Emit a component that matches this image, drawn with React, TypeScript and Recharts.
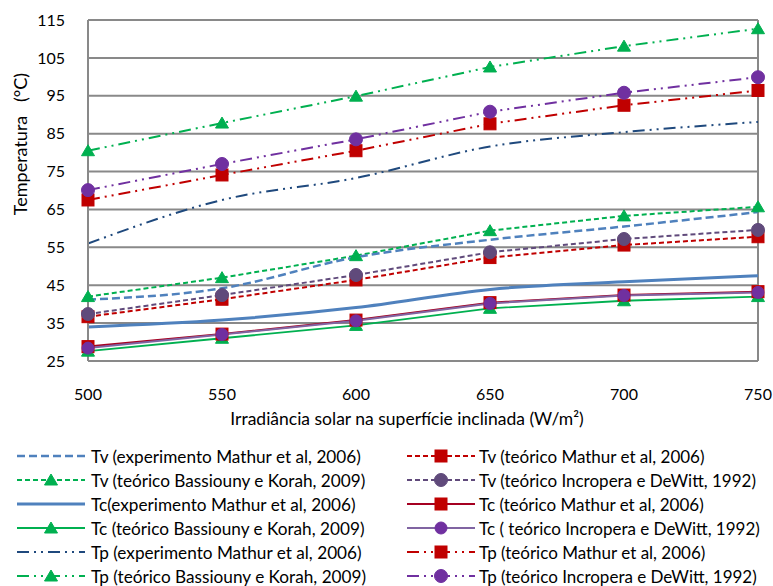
import React from "react";
import {
  LineChart,
  Line,
  XAxis,
  YAxis,
  CartesianGrid,
  ReferenceLine,
} from "recharts";

// Irradiância (W/m²)
const irradiancia = [500, 550, 600, 650, 700, 750];
const yTicks = [25, 35, 45, 55, 65, 75, 85, 95, 105, 115];

// Temperatura do vidro (Tv)
const tvExpMathur = [41.2, 44.2, 52.4, 57.0, 60.5, 64.3];
const tvTeoMathur = [36.7, 41.3, 46.4, 52.3, 55.6, 57.8];
const tvBassiouny = [42.0, 47.0, 52.8, 59.4, 63.3, 65.7];
const tvIncropera = [37.4, 42.4, 47.7, 53.7, 57.2, 59.6];

// Temperatura do coletor (Tc)
const tcExpMathur = [34.0, 35.8, 39.1, 43.9, 45.9, 47.5];
const tcTeoMathur = [28.8, 32.1, 35.8, 40.4, 42.4, 43.3];
const tcBassiouny = [27.6, 31.0, 34.4, 38.9, 40.9, 42.0];
const tcIncropera = [28.4, 32.0, 35.6, 40.2, 42.3, 43.1];

// Temperatura da placa (Tp)
const tpExpMathur = [56.0, 67.5, 73.3, 81.6, 85.4, 88.1];
const tpTeoMathur = [67.5, 74.1, 80.5, 87.6, 92.5, 96.4];
const tpBassiouny = [80.5, 87.8, 94.9, 102.6, 108.1, 112.7];
const tpIncropera = [70.1, 77.0, 83.5, 90.8, 95.8, 99.9];

type Marker = "none" | "square" | "triangle" | "circle";

interface Serie {
  key: string;
  name: string;
  values: number[];
  color: string;
  markerColor: string;
  width: number;
  dash?: string;
  marker: Marker;
  markerSize: number;
  curve: "linear" | "monotone";
}

const DASH_DOT_DOT = "12 5 2 5 2 5";

const series: Serie[] = [
  { key: "tcBass", name: "Tc (teórico Bassiouny e Korah, 2009)", values: tcBassiouny, color: "#00B050", markerColor: "#00B050", width: 1.8, marker: "triangle", markerSize: 12, curve: "linear" },
  { key: "tcExp", name: "Tc(experimento Mathur et al, 2006)", values: tcExpMathur, color: "#4F81BD", markerColor: "#4F81BD", width: 3, marker: "none", markerSize: 0, curve: "monotone" },
  { key: "tcMat", name: "Tc (teórico Mathur et al, 2006)", values: tcTeoMathur, color: "#A50021", markerColor: "#C00000", width: 2, marker: "square", markerSize: 12, curve: "linear" },
  { key: "tcInc", name: "Tc ( teórico Incropera e DeWitt, 1992)", values: tcIncropera, color: "#8064A2", markerColor: "#7030A0", width: 2, marker: "circle", markerSize: 12, curve: "linear" },
  { key: "tvBass", name: "Tv (teórico Bassiouny e Korah, 2009)", values: tvBassiouny, color: "#00B050", markerColor: "#00B050", width: 2, dash: "5 3", marker: "triangle", markerSize: 12, curve: "linear" },
  { key: "tvExp", name: "Tv (experimento Mathur et al, 2006)", values: tvExpMathur, color: "#4F81BD", markerColor: "#4F81BD", width: 2.5, dash: "8 4", marker: "none", markerSize: 0, curve: "monotone" },
  { key: "tvMat", name: "Tv (teórico Mathur et al, 2006)", values: tvTeoMathur, color: "#C00000", markerColor: "#C00000", width: 2, dash: "5 3", marker: "square", markerSize: 12, curve: "linear" },
  { key: "tvInc", name: "Tv (teórico Incropera e DeWitt, 1992)", values: tvIncropera, color: "#604A7B", markerColor: "#604A7B", width: 2, dash: "5 3", marker: "circle", markerSize: 13, curve: "linear" },
  { key: "tpExp", name: "Tp (experimento Mathur et al, 2006)", values: tpExpMathur, color: "#1F497D", markerColor: "#1F497D", width: 2, dash: DASH_DOT_DOT, marker: "none", markerSize: 0, curve: "monotone" },
  { key: "tpBass", name: "Tp (teórico Bassiouny e Korah, 2009)", values: tpBassiouny, color: "#00B050", markerColor: "#00B050", width: 2, dash: DASH_DOT_DOT, marker: "triangle", markerSize: 12, curve: "linear" },
  { key: "tpMat", name: "Tp (teórico Mathur et al, 2006)", values: tpTeoMathur, color: "#C00000", markerColor: "#C00000", width: 2, dash: DASH_DOT_DOT, marker: "square", markerSize: 12, curve: "linear" },
  { key: "tpInc", name: "Tp (teórico Incropera e DeWitt, 1992)", values: tpIncropera, color: "#7030A0", markerColor: "#7030A0", width: 2, dash: DASH_DOT_DOT, marker: "circle", markerSize: 13, curve: "linear" },
];

const legendLeft = ["tvExp", "tvBass", "tcExp", "tcBass", "tpExp", "tpBass"];
const legendRight = ["tvMat", "tvInc", "tcMat", "tcInc", "tpMat", "tpInc"];

const data = irradiancia.map((x, i) => {
  const row: Record<string, number> = { x };
  series.forEach((s) => {
    row[s.key] = s.values[i];
  });
  return row;
});

const FONT = "Lato, 'Open Sans', sans-serif";
const GRID = "#898989";

const drawMarker = (m: Marker, cx: number, cy: number, size: number, color: string, key?: string) => {
  const h = size / 2;
  if (m === "square")
    return <rect key={key} x={cx - h} y={cy - h} width={size} height={size} fill={color} stroke={color} />;
  if (m === "circle")
    return <circle key={key} cx={cx} cy={cy} r={h} fill={color} stroke={color} />;
  if (m === "triangle")
    return (
      <polygon
        key={key}
        points={`${cx},${cy - h} ${cx + h + 0.5},${cy + h - 1} ${cx - h - 0.5},${cy + h - 1}`}
        fill={color}
        stroke={color}
      />
    );
  return <g key={key} />;
};

const dotFor = (s: Serie) => {
  if (s.marker === "none") return false;
  return (props: any) =>
    drawMarker(s.marker, props.cx, props.cy, s.markerSize, s.markerColor, `${s.key}-${props.index}`);
};

const LegendItem = ({ s, gap }: { s: Serie; gap: number }) => (
  <div style={{ display: "flex", alignItems: "center", height: 24 }}>
    <svg width={70} height={20} style={{ flex: "none" }}>
      <line x1={1} y1={10} x2={69} y2={10} stroke={s.color} strokeWidth={s.width} strokeDasharray={s.dash} />
      {drawMarker(s.marker, 35, 10, s.markerSize, s.markerColor)}
    </svg>
    <span style={{ marginLeft: gap, whiteSpace: "pre" }}>{s.name}</span>
  </div>
);

const YLabel = ({ viewBox }: any) => (
  <text
    x={viewBox.x + 20}
    y={viewBox.y + 124}
    transform={`rotate(-90 ${viewBox.x + 20} ${viewBox.y + 124})`}
    textAnchor="middle"
    dominantBaseline="central"
    fontSize={18}
    fontFamily={FONT}
    fill="#000"
  >
    {"Temperatura\u00a0\u00a0\u00a0(°C)"}
  </text>
);

const App = () => {
  const byKey = (k: string) => series.find((s) => s.key === k)!;
  return (
    <div style={{ position: "absolute", left: 0, top: 0, width: 773, height: 586, background: "#fff", fontFamily: FONT }}>
      <LineChart
        width={773}
        height={586}
        data={data}
        margin={{ top: 20, right: 15, left: 0, bottom: 161 }}
        style={{ fontFamily: FONT }}
      >
        <CartesianGrid vertical={false} stroke={GRID} strokeWidth={2} />
        <XAxis
          dataKey="x"
          type="number"
          domain={[500, 750]}
          ticks={irradiancia}
          tickLine={false}
          tickSize={0}
          tickMargin={28}
          height={64}
          axisLine={{ stroke: GRID, strokeWidth: 2 }}
          tick={{ fill: "#000", fontSize: 16 }}
          label={{ value: "Irradiância solar na superfície inclinada (W/m²)", position: "insideBottom", offset: 0, dx: -16, fill: "#000", fontSize: 17.5 }}
        />
        <YAxis
          type="number"
          domain={[25, 115]}
          ticks={yTicks}
          width={88}
          tickLine={false}
          tickSize={0}
          tickMargin={23}
          axisLine={{ stroke: GRID, strokeWidth: 2 }}
          tick={{ fill: "#000", fontSize: 16 }}
          label={<YLabel />}
        />
        <ReferenceLine x={750} stroke={GRID} strokeWidth={2} />
        {series.map((s) => (
          <Line
            key={s.key}
            dataKey={s.key}
            name={s.name}
            type={s.curve}
            stroke={s.color}
            strokeWidth={s.width}
            strokeDasharray={s.dash}
            dot={dotFor(s)}
            activeDot={false}
            isAnimationActive={false}
          />
        ))}
      </LineChart>
      <div style={{ position: "absolute", left: 16, top: 444, fontSize: 17.2, color: "#000" }}>
        {legendLeft.map((k) => (
          <LegendItem key={k} s={byKey(k)} gap={5} />
        ))}
      </div>
      <div style={{ position: "absolute", left: 406, top: 444, fontSize: 17, color: "#000" }}>
        {legendRight.map((k) => (
          <LegendItem key={k} s={byKey(k)} gap={3} />
        ))}
      </div>
    </div>
  );
};

export default App;
